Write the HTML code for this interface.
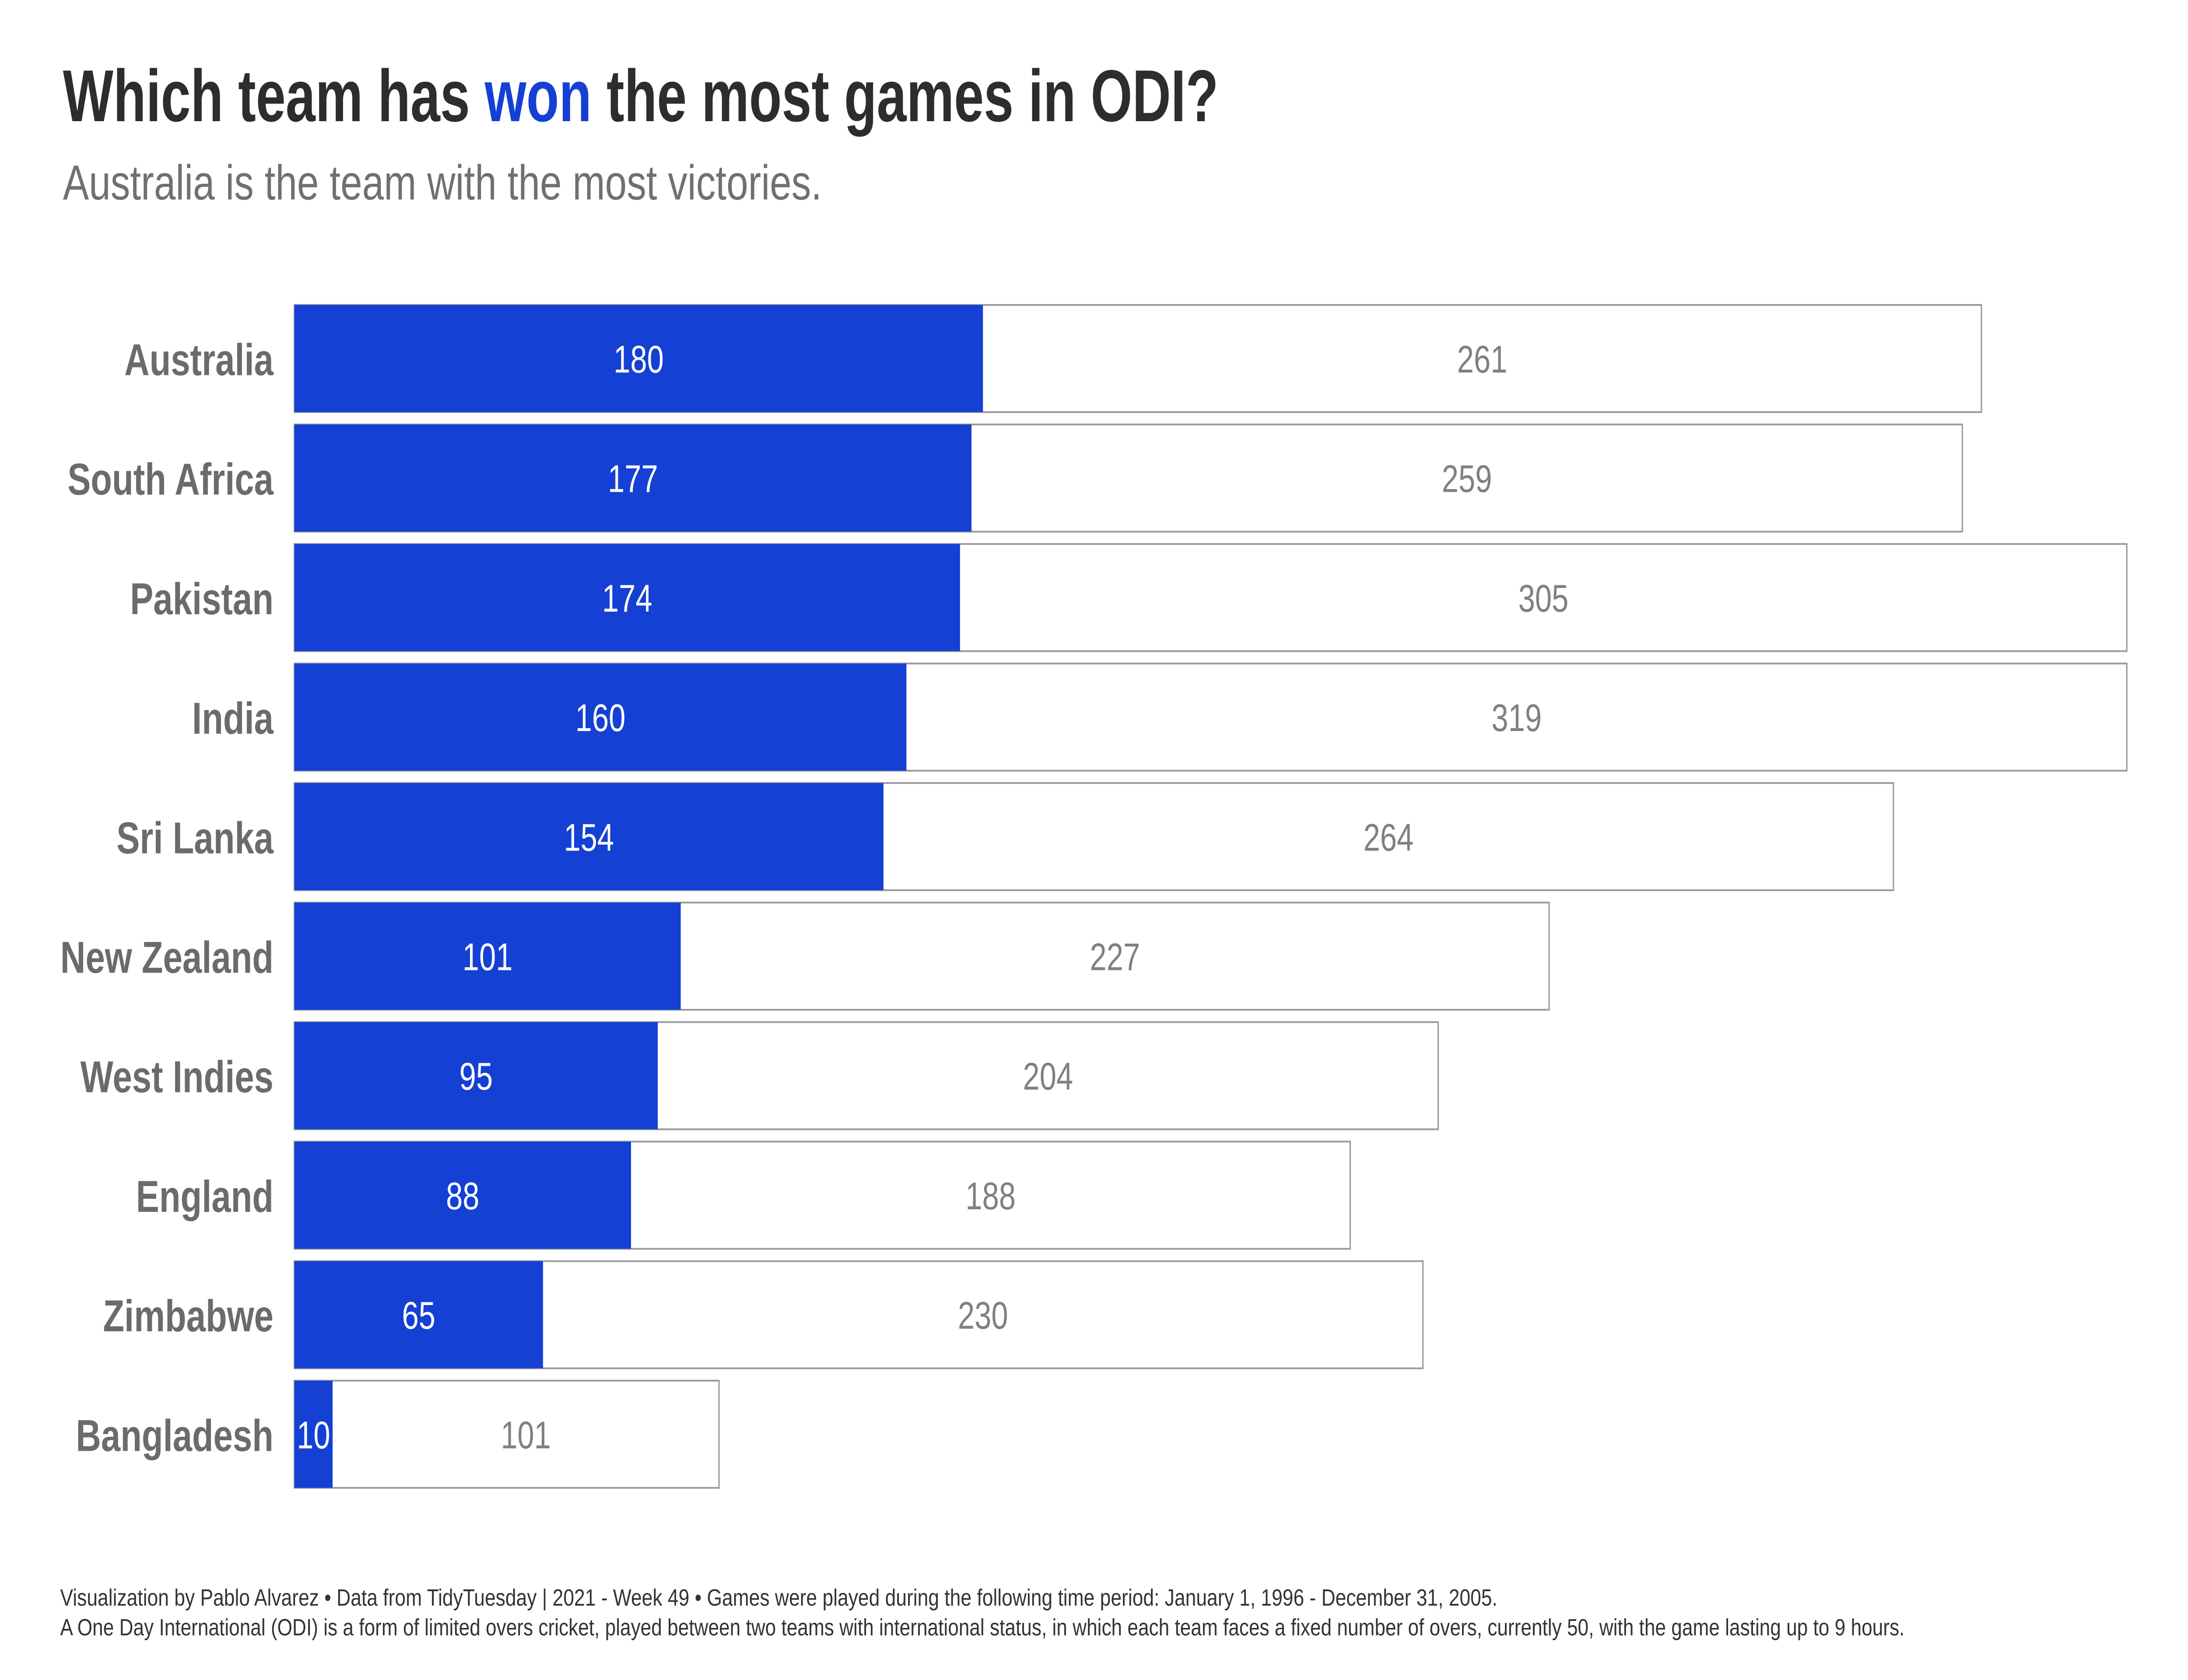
<!DOCTYPE html>
<html><head><meta charset="utf-8">
<style>
html,body{margin:0;padding:0;background:#fff;width:100%;height:100%;overflow:hidden;}
svg{display:block;width:100vw;height:100vh;}
</style></head>
<body>
<svg id="chart" viewBox="0 0 6400 3840" preserveAspectRatio="none" xmlns="http://www.w3.org/2000/svg">
  <rect width="6400" height="3840" fill="#ffffff"/>
  <text x="184" y="277" font-family="'Liberation Sans', sans-serif" font-weight="bold" font-size="168" fill="#2d2d2d" textLength="3380" lengthAdjust="spacingAndGlyphs">Which team has <tspan fill="#1440d4">won</tspan> the most games in ODI?</text>
  <text x="184" y="456" font-family="'Liberation Sans', sans-serif" font-size="112" fill="#707070" textLength="2220" lengthAdjust="spacingAndGlyphs">Australia is the team with the most victories.</text>
  <g id="bars"></g>
  <text x="176" y="3670" font-family="'Liberation Sans', sans-serif" font-size="54" fill="#333" textLength="4204" lengthAdjust="spacingAndGlyphs">Visualization by Pablo Alvarez • Data from TidyTuesday | 2021 - Week 49 • Games were played during the following time period: January 1, 1996 - December 31, 2005.</text>
  <text x="176" y="3738" font-family="'Liberation Sans', sans-serif" font-size="54" fill="#333" textLength="5395" lengthAdjust="spacingAndGlyphs">A One Day International (ODI) is a form of limited overs cricket, played between two teams with international status, in which each team faces a fixed number of overs, currently 50, with the game lasting up to 9 hours.</text>
</svg>
<script>
const teams = ["Australia","South Africa","Pakistan","India","Sri Lanka","New Zealand","West Indies","England","Zimbabwe","Bangladesh"];
const won = [180,177,174,160,154,101,95,88,65,10];
const lost = [261,259,305,319,264,227,204,188,230,101];

const NS = "http://www.w3.org/2000/svg";
const x0 = 861, pxPerUnit = 11.19;
const yTop = 697, pitch = 273.2, barH = 245;
function xScale(v){ return x0 + v * pxPerUnit; }
function yScale(i){ return yTop + i * pitch; }
const g = document.getElementById('bars');
function mk(tag, attrs){ const e = document.createElementNS(NS, tag); for (const k in attrs) e.setAttribute(k, attrs[k]); return e; }

teams.forEach((t, i) => {
  const y = yScale(i);
  const total = won[i] + lost[i];
  const box = mk('rect', {x: x0, y: y, width: xScale(total) - x0, height: barH, fill: '#ffffff', stroke: '#9a9a9a', 'stroke-width': 4});
  
  
  g.appendChild(box);
  const b = mk('rect', {x: x0, y: y, width: xScale(won[i]) - x0, height: barH, fill: '#1440d4'});
  
  
  g.appendChild(b);
  const cy = y + barH / 2;
  const lbl = mk('text', {x: 800, y: cy + 38, 'text-anchor': 'end', 'font-family': "'Liberation Sans', sans-serif", 'font-weight': 'bold', 'font-size': 102, fill: '#6b6b6b'});
  lbl.textContent = t;
  
  
  g.appendChild(lbl);
  const wv = mk('text', {x: (x0 + xScale(won[i])) / 2, y: cy + 32, 'text-anchor': 'middle', 'font-family': "'Liberation Sans', sans-serif", 'font-size': 88, fill: '#ffffff'});
  wv.textContent = won[i];
  
  
  g.appendChild(wv);
  const lv = mk('text', {x: (xScale(won[i]) + xScale(total)) / 2, y: cy + 32, 'text-anchor': 'middle', 'font-family': "'Liberation Sans', sans-serif", 'font-size': 88, fill: '#808080'});
  lv.textContent = lost[i];
  
  
  g.appendChild(lv);
});
</script>
</body></html>
